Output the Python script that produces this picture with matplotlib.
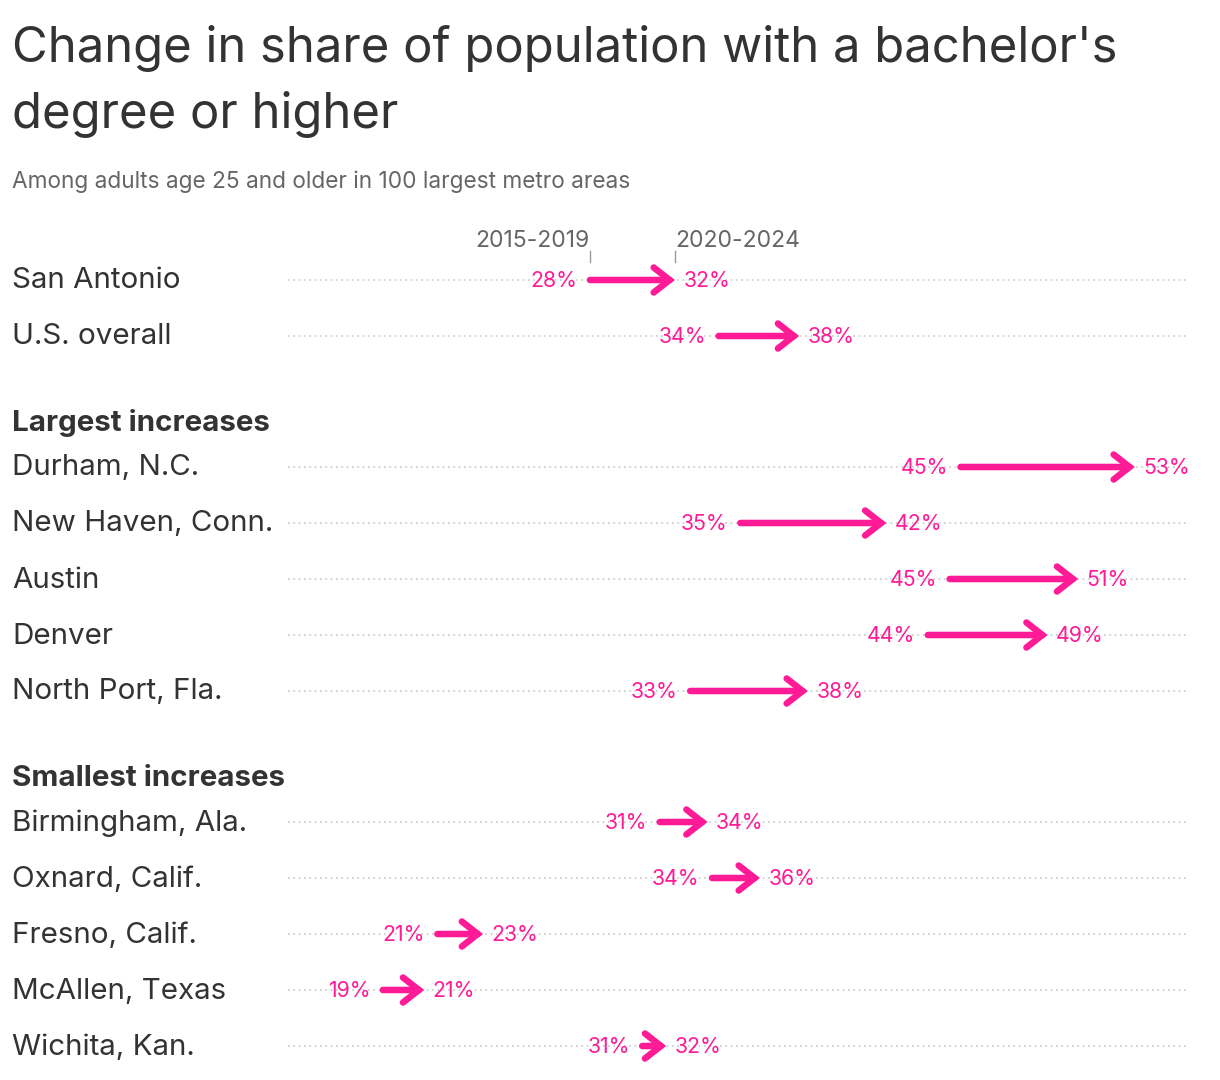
import matplotlib
matplotlib.use("Agg")
import matplotlib.pyplot as plt
from matplotlib.patches import FancyArrowPatch
from matplotlib.transforms import blended_transform_factory

plt.rcParams["font.family"] = ["Inter", "DejaVu Sans"]

PINK = "#ff1a96"
DARK = "#333333"
GREY = "#666666"

# Data (share with bachelor's degree or higher, %)
places = [
    "San Antonio", "U.S. overall",
    "Durham, N.C.", "New Haven, Conn.", "Austin", "Denver", "North Port, Fla.",
    "Birmingham, Ala.", "Oxnard, Calif.", "Fresno, Calif.", "McAllen, Texas", "Wichita, Kan.",
]
sections = [
    "", "",
    "Largest increases", "Largest increases", "Largest increases", "Largest increases", "Largest increases",
    "Smallest increases", "Smallest increases", "Smallest increases", "Smallest increases", "Smallest increases",
]
share_2015_2019 = [28.2, 34.1, 45.2, 35.1, 44.7, 43.7, 32.8, 31.4, 33.8, 21.2, 18.7, 30.6]
share_2020_2024 = [32.1, 37.8, 53.2, 41.8, 50.6, 49.2, 38.2, 33.6, 36.0, 23.3, 20.6, 31.7]
periods = ["2015-2019", "2020-2024"]

W, H = 1220, 1080
fig = plt.figure(figsize=(W / 100, H / 100), dpi=100)
fig.patch.set_facecolor("white")

# plot area runs between the dotted line ends; y is in pixel rows
ax = fig.add_axes([288 / W, 0, (1187 - 288) / W, 1])
ax.set_xlim(14.35, 55.59)
ax.set_ylim(H, 0)
ax.axis("off")

left = blended_transform_factory(fig.transFigure, ax.transData)

# row layout
row_y = []
y = 280
prev = sections[0]
for i, sec in enumerate(sections):
    if i > 0:
        y += 56
        if sec != prev:
            y += 75
            ax.text(12 / W, y - 44, sec, transform=left, ha="left", va="center",
                    fontsize=21.3, fontweight="bold", color=DARK)
    prev = sec
    row_y.append(y)

for name, y, a, b in zip(places, row_y, share_2015_2019, share_2020_2024):
    ax.axhline(y, color="#c8c8c8", lw=1.2, linestyle=(0, (1, 2.2)), zorder=1)
    ax.text(12 / W, y + 1, name, transform=left, ha="left", va="center",
            fontsize=21.3, color=DARK)
    arrow = FancyArrowPatch((a, y), (b, y),
                            arrowstyle="->,head_length=1.15,head_width=0.9",
                            mutation_scale=10, lw=4.7, color=PINK,
                            capstyle="round", joinstyle="miter",
                            shrinkA=0, shrinkB=0, zorder=3)
    ax.add_patch(arrow)
    ax.annotate(f"{a:.0f}%", (a, y), xytext=(-9, -1), textcoords="offset points",
                ha="right", va="center", fontsize=15.3, color=PINK)
    ax.annotate(f"{b:.0f}%", (b, y), xytext=(6, -1), textcoords="offset points",
                ha="left", va="center", fontsize=15.3, color=PINK)

# period markers over the first row
y0 = row_y[0]
for x, lab, ha in zip([share_2015_2019[0], share_2020_2024[0]], periods, ["right", "left"]):
    ax.plot([x, x], [y0 - 29, y0 - 18], color="#999999", lw=1)
    ax.text(x, y0 - 33, lab, ha=ha, va="baseline", fontsize=16.5, color=GREY)

fig.text(12 / W, 1 - 128 / H,
         "Change in share of population with a bachelor's\ndegree or higher",
         ha="left", va="baseline", fontsize=35.3, color=DARK, linespacing=1.5)
fig.text(12 / W, 1 - 188 / H,
         "Among adults age 25 and older in 100 largest metro areas",
         ha="left", va="baseline", fontsize=16.3, color=GREY)

fig.savefig("out.png", dpi=100, facecolor="white")
